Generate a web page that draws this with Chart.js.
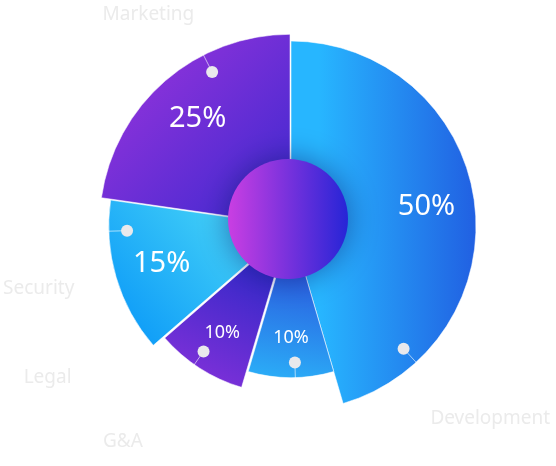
<!DOCTYPE html>
<html>
<head>
<meta charset="utf-8">
<script src="https://cdn.jsdelivr.net/npm/chart.js@4.4.1/dist/chart.umd.min.js"></script>
<style>
  html, body { margin: 0; padding: 0; background: #fff; }
  #wrap { width: 556px; height: 466px; position: relative; }
</style>
</head>
<body>
<div id="wrap"><canvas id="budget"></canvas></div>
<script>
// data, clockwise from 12 o'clock
const categories = ["Development", "G&A", "Legal", "Security", "Marketing"];
const shares = [50, 10, 10, 15, 25];

// look of each slice, same order as categories
const baseRadius = 185;
const sizeScale = [1.0, 0.82, 0.87, 0.985, 1.03];
const sliceOffset = [0, 0, 22, 0, 6];
const sliceGradients = [
    { from: [0.15, 0], to: [1, 0], colors: ["#27b6ff", "#2160e2"] },
    { from: [-0.1, 0.85], to: [0, 0.25], colors: ["#2bb0f8", "#2a5ee0"] },
    { from: [-0.35, 0.85], to: [-0.05, 0.25], colors: ["#7b30d8", "#3428c8"] },
    { from: [-0.85, 0.6], to: [-0.2, 0.05], colors: ["#0e9cf8", "#45d2f7"] },
    { from: [-0.8, -0.8], to: [0, 0], colors: ["#8a32da", "#3a28cf"] }
];
const dotAt = [0.84, 0.45, 0.57, 0.8, 0.67];
// where the category names sit: degrees clockwise from top, distance from centre
const namePlace = [
    { deg: 134, dist: 277 },
    { deg: 218, dist: 273 },
    { deg: 238, dist: 287 },
    { deg: 256, dist: 260 },
    { deg: 326, dist: 255 }
];

function pieCentre(chart) {
    const a = chart.chartArea;
    return { x: (a.left + a.right) / 2, y: (a.top + a.bottom) / 2 };
}

function sliceFill(context) {
    const i = context.dataIndex;
    const g = sliceGradients[i];
    const chart = context.chart;
    if (!chart.chartArea || !g) return g ? g.colors[0] : "#2a8ff0";
    const c = pieCentre(chart);
    const R = baseRadius;
    const grad = chart.ctx.createLinearGradient(
        c.x + g.from[0] * R, c.y + g.from[1] * R,
        c.x + g.to[0] * R, c.y + g.to[1] * R);
    grad.addColorStop(0, g.colors[0]);
    grad.addColorStop(1, g.colors[1]);
    return grad;
}

// shift chart.js applies to an offset arc
function arcShift(arc) {
    const off = (arc.options.offset || 0) / 4;
    const circ = arc.endAngle - arc.startAngle;
    const fix = 1 - Math.sin(Math.min(Math.PI, circ));
    const mid = (arc.startAngle + arc.endAngle) / 2;
    const t = off * (1 + fix);
    return { x: Math.cos(mid) * t, y: Math.sin(mid) * t };
}

const sliceSize = {
    id: "sliceSize",
    afterDatasetUpdate(chart, args) {
        args.meta.data.forEach((arc, i) => {
            arc.outerRadius = baseRadius * sizeScale[i];
        });
    }
};

const decorations = {
    id: "decorations",
    afterDatasetsDraw(chart) {
        const ctx = chart.ctx;
        const c = pieCentre(chart);
        const arcs = chart.getDatasetMeta(0).data;

        // centre disc with soft shadow
        ctx.save();
        const disc = ctx.createLinearGradient(c.x - 60, c.y, c.x + 60, c.y);
        disc.addColorStop(0, "#c63ee2");
        disc.addColorStop(1, "#2224d6");
        ctx.shadowColor = "rgba(15, 25, 110, 0.55)";
        ctx.shadowBlur = 30;
        ctx.beginPath();
        ctx.arc(c.x - 3, c.y - 7, 60, 0, Math.PI * 2);
        ctx.fillStyle = disc;
        ctx.fill();
        ctx.restore();

        arcs.forEach((arc, i) => {
            const s = arcShift(arc);
            const x0 = arc.x + s.x, y0 = arc.y + s.y;
            const r = arc.outerRadius;

            // dot with short leader to the rim
            const a = arc.startAngle + (arc.endAngle - arc.startAngle) * dotAt[i];
            const dx = Math.cos(a), dy = Math.sin(a);
            ctx.save();
            ctx.strokeStyle = "rgba(255,255,255,0.6)";
            ctx.lineWidth = 1;
            ctx.beginPath();
            ctx.moveTo(x0 + dx * r * 0.9, y0 + dy * r * 0.9);
            ctx.lineTo(x0 + dx * (r + 1), y0 + dy * (r + 1));
            ctx.stroke();
            ctx.beginPath();
            ctx.arc(x0 + dx * r * 0.9, y0 + dy * r * 0.9, 6, 0, Math.PI * 2);
            ctx.fillStyle = "#e9e9ec";
            ctx.fill();
            ctx.restore();

            // percentage
            const m = (arc.startAngle + arc.endAngle) / 2;
            const size = shares[i] >= 15 ? 29 : 18;
            ctx.save();
            ctx.fillStyle = "#ffffff";
            ctx.font = size + "px 'Noto Sans', sans-serif";
            ctx.textAlign = "center";
            ctx.textBaseline = "middle";
            ctx.fillText(shares[i] + "%", x0 + Math.cos(m) * r * 0.74, y0 + Math.sin(m) * r * 0.74);
            ctx.restore();
        });
    },
    afterDraw(chart) {
        const ctx = chart.ctx;
        const c = pieCentre(chart);
        ctx.save();
        ctx.fillStyle = "#ebebeb";
        ctx.font = "19px 'Noto Sans', sans-serif";
        ctx.textAlign = "center";
        ctx.textBaseline = "middle";
        categories.forEach((name, i) => {
            const p = namePlace[i];
            const rad = p.deg * Math.PI / 180;
            ctx.fillText(name, c.x + Math.sin(rad) * p.dist, c.y - Math.cos(rad) * p.dist);
        });
        ctx.restore();
    }
};

new Chart(document.getElementById("budget"), {
    type: "pie",
    data: {
        labels: categories,
        datasets: [{
            data: shares,
            backgroundColor: sliceFill,
            borderColor: "rgba(255,255,255,0.55)",
            borderWidth: 1,
            offset: sliceOffset
        }]
    },
    options: {
        responsive: true,
        maintainAspectRatio: false,
        animation: false,
        events: [],
        rotation: 0,
        radius: baseRadius,
        layout: { padding: { left: 26, right: 0, top: 0, bottom: 14 } },
        plugins: {
            legend: { display: false },
            tooltip: { enabled: false }
        }
    },
    plugins: [sliceSize, decorations]
});
</script>
</body>
</html>
